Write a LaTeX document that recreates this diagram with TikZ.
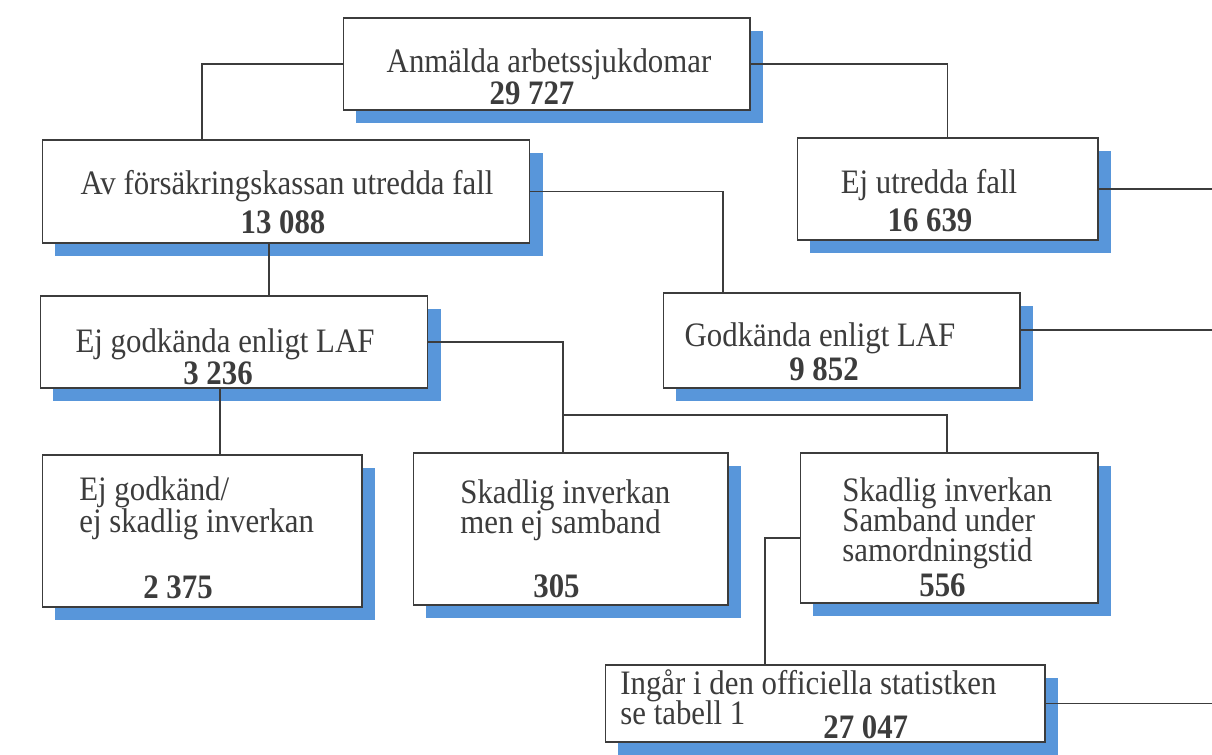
\documentclass[tikz,border=0pt]{standalone}
\usepackage{fontspec}
\setmainfont{Liberation Serif}[FakeStretch=0.9]
\usetikzlibrary{shadows}

\definecolor{shadowblue}{RGB}{88,150,218}
\definecolor{inkgray}{RGB}{60,60,60}

\tikzset{
  box/.style={draw=inkgray, line width=0.6pt, fill=white, inner sep=0pt,
    drop shadow={shadow xshift=0.26cm, shadow yshift=-0.26cm, fill=shadowblue, opacity=1}},
  txt/.style={font=\fontsize{19.5}{22}\selectfont, text=inkgray, inner sep=0pt},
  num/.style={font=\fontsize{19.5}{22}\selectfont\bfseries, text=inkgray, inner sep=0pt},
  link/.style={draw=inkgray, line width=0.6pt},
}

\begin{document}
\begin{tikzpicture}[x=0.02cm, y=-0.02cm]
    \useasboundingbox (0,0) rectangle (1212,754);

    % Rutor
    \node[box, minimum width=8.14cm, minimum height=1.84cm] (anm) at (546.5, 64) {};
    \node[box, minimum width=9.76cm, minimum height=2.06cm] (av)  at (286, 191.5) {};
    \node[box, minimum width=6.02cm, minimum height=2.04cm] (utr) at (947.5, 189) {};
    \node[box, minimum width=7.76cm, minimum height=1.84cm] (ejg) at (234, 342) {};
    \node[box, minimum width=7.14cm, minimum height=1.90cm] (god) at (841.5, 340.5) {};
    \node[box, minimum width=6.40cm, minimum height=3.04cm] (ejs) at (202, 531) {};
    \node[box, minimum width=6.30cm, minimum height=3.04cm] (skm) at (570.5, 529) {};
    \node[box, minimum width=5.96cm, minimum height=3.00cm] (sam) at (949, 528) {};
    \node[box, minimum width=8.80cm, minimum height=1.54cm] (ing) at (825, 703.5) {};

    % Texter
    \node[txt, anchor=base] (anm-a) at (549, 72) {Anmälda arbetssjukdomar};
    \node[num, anchor=base] (anm-n) at (532, 104) {29 727};
    \node[txt, anchor=base] (av-a) at (287, 194) {Av försäkringskassan utredda fall};
    \node[num, anchor=base] (av-n) at (283, 233) {13 088};
    \node[txt, anchor=base] (utr-a) at (929, 193) {Ej utredda fall};
    \node[num, anchor=base] (utr-n) at (930, 231) {16 639};
    \node[txt, anchor=base] (ejg-a) at (225, 352) {Ej godkända enligt LAF};
    \node[num, anchor=base] (ejg-n) at (218, 384) {3 236};
    \node[txt, anchor=base] (god-a) at (820, 346) {Godkända enligt LAF};
    \node[num, anchor=base] (god-n) at (824, 380) {9 852};

    \node[txt, anchor=base west] (ejs-a) at (79, 500) {Ej godkänd/};
    \node[txt, anchor=base west] (ejs-b) at (79, 532) {ej skadlig inverkan};
    \node[num, anchor=base west] (ejs-n) at (143, 598) {2 375};
    \node[txt, anchor=base west] (skm-a) at (460, 503) {Skadlig inverkan};
    \node[txt, anchor=base west] (skm-b) at (460, 533) {men ej samband};
    \node[num, anchor=base west] (skm-n) at (533, 597) {305};
    \node[txt, anchor=base west] (sam-a) at (842, 501) {Skadlig inverkan};
    \node[txt, anchor=base west] (sam-b) at (842, 531) {Samband under};
    \node[txt, anchor=base west] (sam-c) at (842, 561) {samordningstid};
    \node[num, anchor=base west] (sam-n) at (919, 596) {556};
    \node[txt, anchor=base west] (ing-a) at (620, 694) {Ingår i den officiella statistken};
    \node[txt, anchor=base west] (ing-b) at (620, 724) {se tabell 1};
    \node[num, anchor=base west] (ing-n) at (823, 738) {27 047};

    % Kopplingspunkter
    \coordinate (av-in)   at (202, 140);
    \coordinate (av-out)  at (269, 243);
    \coordinate (ejg-in)  at (269, 297);
    \coordinate (god-in)  at (723, 293);
    \coordinate (ejs-in)  at (220, 455);
    \coordinate (ejg-out) at (220, 387);
    \coordinate (skm-in)  at (563, 453);
    \coordinate (gren)    at (563, 415);
    \coordinate (sam-in)  at (947, 453);
    \coordinate (sam-out) at (800, 538);
    \coordinate (ing-in)  at (765, 666);
    \coordinate (god-out) at (1020, 330);
    \coordinate (kant)    at (1212, 0);

    % Linjer
    \draw[link] (anm.west) -| (av-in);
    \draw[link] (anm.east) -| (utr.north);
    \draw[link] (av-out) -- (ejg-in);
    \draw[link] (av.east) -| (god-in);
    \draw[link] (ejg-out) -- (ejs-in);
    \draw[link] (ejg.east) -| (skm-in);
    \draw[link] (gren) -| (sam-in);
    \draw[link] (sam-out) -| (ing-in);
    \draw[link] (utr.east) -- (utr.east -| kant);
    \draw[link] (god-out) -- (god-out -| kant);
    \draw[link] (ing.east) -- (ing.east -| kant);
\end{tikzpicture}
\end{document}
